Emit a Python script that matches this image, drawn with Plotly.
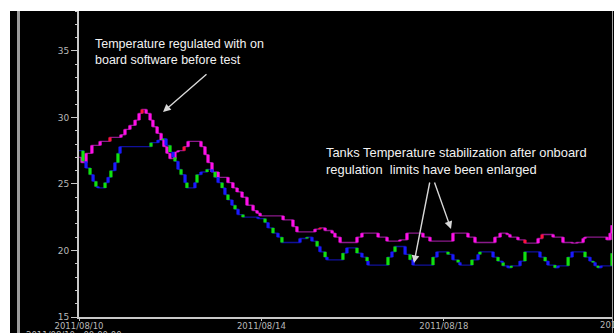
import pandas as pd
import plotly.graph_objects as go

START = pd.Timestamp("2011-08-10 00:00")

# Upper tank sensor pair (magenta / red): hours since start, temperature in degC
pink_hours = [0.0, 1.6, 3.7, 6.8, 11.1, 16.3, 22.1, 24.2, 26.8, 29.5, 31.6, 33.2,
              35.3, 37.4, 38.9, 41.1, 43.2, 44.7, 46.3, 47.9, 50.5, 52.1, 55.3, 57.4,
              64.2, 66.3, 67.9, 70.0, 73.2, 78.4, 81.0, 83.2, 85.8, 88.4, 91.6, 93.7,
              95.3, 107.4, 112.6, 114.7, 124.2, 126.8, 129.5, 133.2, 134.7, 137.4,
              146.3, 148.9, 157.4, 162.1, 168.9, 172.6, 181.0, 184.7, 196.8, 204.7,
              208.4, 218.9, 221.6, 225.3, 226.8, 231.0, 234.7, 241.6, 243.7, 249.5,
              254.7, 259.5, 262.1, 265.3, 266.3, 277.9, 279.5, 280.5]
pink_temp = [27.0, 26.6, 27.3, 27.9, 28.2, 28.5, 28.7, 29.1, 29.4, 29.8, 30.3, 30.6,
             30.3, 29.8, 29.3, 28.8, 28.3, 27.8, 27.3, 26.9, 27.4, 27.5, 27.8, 28.2,
             27.8, 27.2, 26.6, 25.9, 25.5, 25.1, 24.7, 24.4, 24.0, 23.4, 23.0, 22.8,
             22.6, 22.3, 21.8, 21.4, 21.6, 21.7, 21.5, 21.3, 21.0, 20.6,
             21.0, 21.3, 21.0, 20.7, 20.8, 21.3, 21.0, 20.7, 21.3, 21.0,
             20.6, 21.0, 21.3, 21.2, 21.0, 20.8, 20.55, 20.9, 21.2, 21.0,
             20.6, 20.55, 20.6, 20.9, 21.0, 20.8, 21.3, 21.9]

# Lower tank sensor pair (blue / green)
lower_hours = [0.0, 2.1, 3.7, 5.8, 7.4, 8.9, 10.0, 13.7, 15.3, 16.8, 18.9, 20.5, 21.6,
               37.9, 41.6, 44.2, 45.8, 47.9, 49.5, 50.5, 52.1, 53.7, 55.8, 56.8, 61.0,
               62.1, 64.2, 67.4, 70.0, 71.6, 73.2, 75.3, 76.8, 78.4, 80.5, 82.1, 83.7,
               86.3, 94.2, 97.9, 99.5, 102.1, 104.7, 106.8, 116.3, 120.0, 122.6, 125.3,
               126.8, 129.5, 130.5, 138.9, 141.0, 146.3, 148.9, 151.6, 152.1, 162.6,
               164.7, 166.3, 171.6, 174.2, 175.8, 186.3, 188.4, 194.2, 196.8, 199.5,
               200.5, 206.8, 210.0, 211.0, 217.9, 220.5, 222.6, 223.2, 225.8, 227.4,
               232.1, 234.7, 242.6, 245.3, 246.8, 250.5, 252.1, 257.4, 259.5, 266.3,
               268.9, 270.5, 271.6, 273.2, 274.7, 280.5]
lower_temp = [27.5, 26.7, 26.2, 25.7, 25.2, 24.8, 24.7, 25.1, 25.5, 26.0, 26.6, 27.3, 27.8,
              28.1, 28.3, 28.4, 27.9, 27.4, 27.0, 26.7, 26.1, 25.7, 25.1, 24.7, 25.1,
              25.7, 25.9, 26.1, 25.9, 25.5, 25.1, 24.7, 24.2, 23.8, 23.4, 23.1, 22.7,
              22.5, 22.4, 22.1, 21.7, 21.3, 21.0, 20.6, 20.9, 21.0, 20.7, 20.3,
              19.9, 19.5, 19.3, 19.8, 20.2, 19.8, 19.5, 19.2, 18.9, 19.5,
              19.9, 20.3, 19.7, 19.3, 18.9, 19.5, 19.9, 19.7, 19.3, 19.1,
              18.9, 19.3, 19.7, 19.9, 19.5, 19.2, 19.1, 18.85, 18.7, 18.85,
              19.2, 19.9, 19.5, 19.2, 18.9, 18.7, 18.85, 19.5, 19.9, 19.5,
              19.2, 19.1, 18.85, 18.7, 18.85, 19.8]

y_ticks = [15, 20, 25, 30, 35]
x_tick_format = "%Y/%m/%d"

text_before = "Temperature regulated with on<br>board software before test"
text_after = ("Tanks Temperature stabilization after onboard<br>"
              "regulation\u00a0 limits have been enlarged")
footer_text = "2011/08/10 - 00:00:00"

# steps drawn in the second sensor colour of each pair
pink_red_at = {16.3, 33.2, 55.3, 126.8, 234.7, 243.7}


def to_time(hours):
    return [START + pd.Timedelta(hours=h) for h in hours]


def risers(times, temps, color_of):
    """Vertical parts of a step trace, grouped by colour."""
    groups = {}
    for i in range(1, len(times)):
        if temps[i] == temps[i - 1]:
            continue
        xs, ys = groups.setdefault(color_of(i), ([], []))
        xs += [times[i], times[i], None]
        ys += [temps[i - 1], temps[i], None]
    return groups


pink_t = to_time(pink_hours)
lower_t = to_time(lower_hours)

fig = go.Figure()

fig.add_trace(go.Scatter(x=pink_t, y=pink_temp, mode="lines",
                         line=dict(shape="hv", color="#8a1a8a", width=1.3),
                         hoverinfo="skip"))
fig.add_trace(go.Scatter(x=lower_t, y=lower_temp, mode="lines",
                         line=dict(shape="hv", color="#10109a", width=1.3),
                         hoverinfo="skip"))

pink_groups = risers(pink_t, pink_temp,
                     lambda i: "#ff1040" if pink_hours[i] in pink_red_at else "#ff10e8")
lower_groups = risers(lower_t, lower_temp,
                      lambda i: "#10e010" if i % 2 else "#1a1aff")
for color, (xs, ys) in list(pink_groups.items()) + list(lower_groups.items()):
    fig.add_trace(go.Scatter(x=xs, y=ys, mode="lines",
                             line=dict(color=color, width=3.2),
                             hoverinfo="skip"))

axis_grey = "#c8c8c8"
label_grey = "#b8b8b8"

fig.update_xaxes(
    type="date",
    range=[START, START + pd.Timedelta(hours=280.5)],
    tick0=START, dtick=4 * 24 * 3600 * 1000, tickformat=x_tick_format,
    showline=True, linecolor=axis_grey, linewidth=1.5,
    ticks="outside", ticklen=2, tickcolor=axis_grey, tickwidth=1,
    ticklabelstandoff=-2,
    tickfont=dict(family="DejaVu Sans", size=8.5, color=label_grey),
    showgrid=False, zeroline=False,
)
fig.update_yaxes(
    range=[15, 38], tickvals=y_ticks,
    showline=True, linecolor=axis_grey, linewidth=2,
    ticks="outside", ticklen=6, tickcolor=axis_grey, tickwidth=1,
    minor=dict(dtick=1, tick0=15, ticks="outside", ticklen=2, tickcolor=axis_grey),
    tickfont=dict(family="DejaVu Sans", size=9, color=label_grey),
    showgrid=False, zeroline=False,
)

W, H = 614, 333
L, R, T, B = 79, 2, 11, 16
pw, ph = W - L - R, H - T - B


def px(x):
    return (x - L) / pw


def py(y):
    return (H - B - y) / ph


note_font = dict(family="Liberation Sans, Arial", size=12.5, color="#f2f2f2")
arrow_style = dict(showarrow=True, arrowhead=2, arrowsize=1.1, arrowwidth=1.4,
                   arrowcolor="#d8d8d8", text="", xref="paper", yref="paper")
small_font = dict(family="DejaVu Sans", size=8.5, color=label_grey)

fig.update_layout(
    width=W, height=H,
    margin=dict(l=L, r=R, t=T, b=B, pad=0),
    paper_bgcolor="#000000", plot_bgcolor="#000000",
    showlegend=False,
    shapes=[
        dict(type="rect", xref="paper", yref="paper", x0=px(0), x1=px(W),
             y0=py(T), y1=py(0), fillcolor="white", line_width=0, layer="above"),
        dict(type="rect", xref="paper", yref="paper", x0=px(0), x1=px(10),
             y0=py(H), y1=py(0), fillcolor="white", line_width=0, layer="above"),
        dict(type="rect", xref="paper", yref="paper", x0=px(17), x1=px(20),
             y0=py(H), y1=py(T), fillcolor="#9a9a9a", line_width=0, layer="above"),
        dict(type="line", xref="paper", yref="paper", x0=px(612.5), x1=px(612.5),
             y0=py(H), y1=py(T), line=dict(color="#a0a0a0", width=1), layer="above"),
    ],
    annotations=[
        dict(text=text_before, xref="paper", yref="paper", x=px(93), y=py(52),
             xanchor="left", yanchor="middle", align="left", showarrow=False,
             font=note_font),
        dict(text=text_after, xref="paper", yref="paper", x=px(324), y=py(161),
             xanchor="left", yanchor="middle", align="left", showarrow=False,
             font=dict(note_font, size=12.9)),
        dict(x=px(163), y=py(112), ax=45, ay=-39, **arrow_style),
        dict(x=px(414), y=py(263), ax=16, ay=-82, **arrow_style),
        dict(x=px(451), y=py(229), ax=-17, ay=-48, **arrow_style),
        dict(text="2011/08/22", xref="paper", yref="paper", x=px(624), y=py(318),
             xanchor="center", yanchor="top", showarrow=False, font=small_font),
        dict(text=footer_text, xref="paper", yref="paper", x=px(24), y=py(328),
             xanchor="left", yanchor="top", showarrow=False, font=small_font),
    ],
)

fig.write_html("out.html")
